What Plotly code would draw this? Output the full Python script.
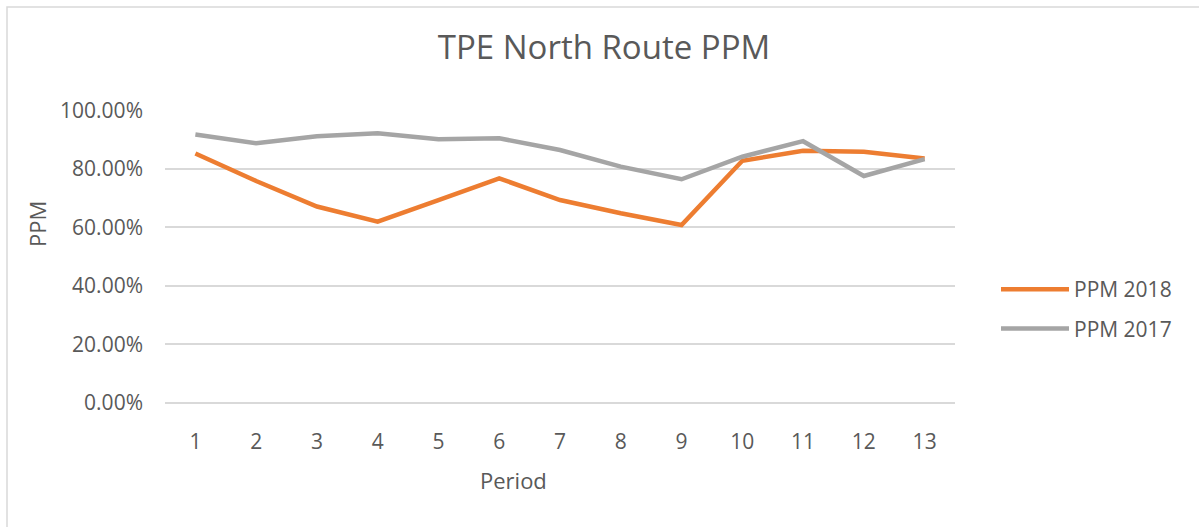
import plotly.graph_objects as go

periods = list(range(1, 14))
ppm_2018 = [0.852, 0.758, 0.671, 0.619, 0.693, 0.767, 0.693, 0.648, 0.608, 0.827, 0.861, 0.858, 0.835]
ppm_2017 = [0.917, 0.887, 0.911, 0.921, 0.901, 0.904, 0.864, 0.807, 0.764, 0.841, 0.894, 0.775, 0.833]
y_ticks = [0, 0.2, 0.4, 0.6, 0.8, 1.0]

W, H = 1199, 527
L, R, T, B = 165, 244, 110, 124
pw, ph = W - L - R, H - T - B

def px_x(p):
    return (p - L) / pw

def px_y(p):
    return (H - B - p) / ph

FONT = "Open Sans"
TXT = "#595959"

fig = go.Figure()
fig.add_trace(go.Scatter(x=periods, y=ppm_2018, mode="lines", name="PPM 2018",
                         line=dict(color="#ED7D31", width=4.5), legendgroup="a"))
fig.add_trace(go.Scatter(x=periods, y=ppm_2017, mode="lines", name="PPM 2017",
                         line=dict(color="#A5A5A5", width=4.5), legendgroup="b"))

fig.update_layout(
    width=W, height=H,
    margin=dict(l=L, r=R, t=T, b=B),
    paper_bgcolor="white", plot_bgcolor="white",
    font=dict(family=FONT, color=TXT, size=21),
    title=dict(text="TPE North Route PPM", x=604 / W, xanchor="center",
               y=1 - 47 / H, yanchor="middle", font=dict(size=33, color=TXT)),
    showlegend=True,
    legend=dict(x=px_x(996), xanchor="left", y=px_y(309), yanchor="middle",
                font=dict(size=21, color=TXT), tracegroupgap=9, itemwidth=68,
                bgcolor="rgba(0,0,0,0)"),
    xaxis=dict(range=[0.5, 13.5], tickvals=periods, ticktext=[str(p) for p in periods],
               showgrid=False, zeroline=False, showline=False, ticks="",
               ticklabelstandoff=24, tickfont=dict(size=21, color=TXT)),
    yaxis=dict(range=[0, 1.0005], tickvals=y_ticks, tickformat=".2%",
               showgrid=True, gridcolor="#D9D9D9", gridwidth=1.5,
               zeroline=True, zerolinecolor="#D9D9D9", zerolinewidth=1.5,
               showline=False, ticks="", ticklabelstandoff=21,
               tickfont=dict(size=21, color=TXT)),
)

fig.add_annotation(text="Period", xref="paper", yref="paper", x=px_x(513), y=px_y(480),
                   xanchor="center", yanchor="middle", showarrow=False,
                   font=dict(size=22, color=TXT))
fig.add_annotation(text="PPM", xref="paper", yref="paper", x=px_x(37), y=px_y(224),
                   xanchor="center", yanchor="middle", showarrow=False, textangle=-90,
                   font=dict(size=22, color=TXT))

fig.add_shape(type="rect", xref="paper", yref="paper",
              x0=px_x(7), y0=px_y(H + 10), x1=px_x(W + 10), y1=px_y(7),
              line=dict(color="#D9D9D9", width=1.5), fillcolor="rgba(0,0,0,0)", layer="below")

fig.write_html("out.html", config={"displayModeBar": False},
               post_script="document.body.style.margin='0';")
